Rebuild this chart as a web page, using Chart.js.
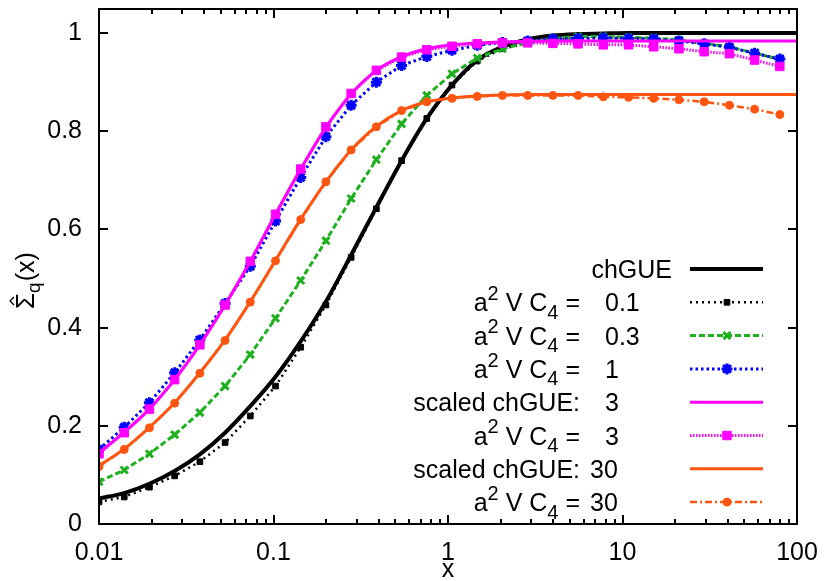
<!DOCTYPE html>
<html>
<head>
<meta charset="utf-8">
<script src="https://cdn.jsdelivr.net/npm/chart.js@4.4.1/dist/chart.umd.min.js"></script>
<style>
  html, body { margin: 0; padding: 0; background: #fff; }
  #wrap { position: relative; width: 830px; height: 581px; }
  #wrap canvas { position: absolute; left: 0; top: 0; }
  .gp { position: absolute; background: #000; pointer-events: none; }
</style>
</head>
<body>
<div id="wrap">
  <canvas id="sigmaChart" width="830" height="581"></canvas>
</div>
<script>
// x grid (log spaced)
const xGrid = [0.01, 0.01395, 0.01945, 0.02713, 0.03784, 0.05279, 0.07362, 0.1027, 0.1432, 0.1997,
  0.2786, 0.3886, 0.542, 0.756, 1.054, 1.471, 2.051, 2.861, 3.99, 5.566,
  7.762, 10.83, 15.1, 21.06, 29.38, 40.98, 57.15, 79.71];
// smooth curves run to the right edge
const xCurve = xGrid.concat([100]);

const chGUE = [0.052, 0.063, 0.082, 0.108, 0.142, 0.186, 0.240, 0.300, 0.372, 0.453,
  0.548, 0.645, 0.740, 0.826, 0.894, 0.945, 0.972, 0.987, 0.995, 0.998,
  0.999, 1.0, 1.0, 1.0, 1.0, 1.0, 1.0, 1.0, 1.0];
const c4_01 = [0.045, 0.055, 0.075, 0.098, 0.127, 0.166, 0.220, 0.281, 0.360, 0.446,
  0.543, 0.642, 0.740, 0.826, 0.894, 0.943, 0.968, 0.980, 0.987, 0.990,
  0.991, 0.990, 0.989, 0.985, 0.979, 0.971, 0.959, 0.946];
const c4_03 = [0.086, 0.110, 0.143, 0.182, 0.227, 0.281, 0.345, 0.419, 0.496, 0.577,
  0.663, 0.742, 0.815, 0.873, 0.917, 0.949, 0.968, 0.981, 0.989, 0.993,
  0.993, 0.991, 0.990, 0.986, 0.979, 0.972, 0.959, 0.947];
const c4_1 = [0.152, 0.197, 0.247, 0.308, 0.375, 0.449, 0.525, 0.617, 0.706, 0.789,
  0.853, 0.900, 0.934, 0.952, 0.965, 0.975, 0.981, 0.984, 0.988, 0.989,
  0.990, 0.989, 0.988, 0.984, 0.978, 0.971, 0.959, 0.947];
const scaled3 = [0.145, 0.187, 0.234, 0.294, 0.365, 0.446, 0.535, 0.631, 0.723, 0.808,
  0.876, 0.924, 0.952, 0.968, 0.976, 0.980, 0.982, 0.983, 0.984, 0.984,
  0.984, 0.984, 0.984, 0.984, 0.984, 0.984, 0.984, 0.984, 0.984];
const c4_3 = [0.143, 0.186, 0.234, 0.294, 0.365, 0.446, 0.535, 0.631, 0.723, 0.809,
  0.877, 0.924, 0.951, 0.966, 0.973, 0.978, 0.980, 0.980, 0.979, 0.978,
  0.976, 0.976, 0.972, 0.968, 0.962, 0.958, 0.945, 0.932];
const scaled30 = [0.119, 0.153, 0.197, 0.247, 0.308, 0.375, 0.453, 0.537, 0.621, 0.697,
  0.762, 0.810, 0.842, 0.860, 0.868, 0.872, 0.874, 0.875, 0.875, 0.875,
  0.875, 0.875, 0.875, 0.875, 0.875, 0.875, 0.875, 0.875, 0.875];
const c4_30 = [0.117, 0.152, 0.196, 0.246, 0.307, 0.374, 0.452, 0.536, 0.620, 0.697,
  0.762, 0.809, 0.842, 0.860, 0.867, 0.871, 0.873, 0.873, 0.873, 0.873,
  0.870, 0.869, 0.867, 0.864, 0.860, 0.853, 0.845, 0.834];

const xTicks = [0.01, 0.1, 1, 10, 100];
const yTicks = [0, 0.2, 0.4, 0.6, 0.8, 1];

// key text: [prefix, value]
const keyText = [
  ["chGUE", ""],
  ["a^2 V C_4 =", "0.1"],
  ["a^2 V C_4 =", "0.3"],
  ["a^2 V C_4 =", "1"],
  ["scaled chGUE:", "3"],
  ["a^2 V C_4 =", "3"],
  ["scaled chGUE:", "30"],
  ["a^2 V C_4 =", "30"]
];

const FONT = "Liberation Sans, Arial, sans-serif";
Chart.defaults.font.family = FONT;
Chart.defaults.font.size = 25;
Chart.defaults.color = "#000";

function pts(xs, ys) { return ys.map((v, i) => ({ x: xs[i], y: v })); }

const datasets = [
  { data: pts(xCurve, chGUE), borderColor: "#000", borderWidth: 4, pointRadius: 0, cubicInterpolationMode: "monotone" },
  { data: pts(xGrid, c4_01), borderColor: "#000", backgroundColor: "#000", borderWidth: 2.5, borderDash: [2, 4],
    pointStyle: "rect", pointRadius: 4, pointBorderWidth: 1 },
  { data: pts(xGrid, c4_03), borderColor: "#1fb01f", backgroundColor: "#1fb01f", borderWidth: 3, borderDash: [6, 3],
    pointStyle: "crossRot", pointRadius: 5, pointBorderWidth: 3 },
  { data: pts(xGrid, c4_1), borderColor: "#0000ff", backgroundColor: "#0000ff", borderWidth: 3, borderDash: [2.5, 3],
    pointStyle: "star", pointRadius: 5.5, pointBorderWidth: 3 },
  { data: pts(xCurve, scaled3), borderColor: "#ff00ff", borderWidth: 3, pointRadius: 0, cubicInterpolationMode: "monotone" },
  { data: pts(xGrid, c4_3), borderColor: "#ff00ff", backgroundColor: "#ff00ff", borderWidth: 3, borderDash: [1.5, 1.5],
    pointStyle: "rect", pointRadius: 6, pointBorderWidth: 1 },
  { data: pts(xCurve, scaled30), borderColor: "#ff5511", borderWidth: 3, pointRadius: 0, cubicInterpolationMode: "monotone" },
  { data: pts(xGrid, c4_30), borderColor: "#ff5511", backgroundColor: "#ff5511", borderWidth: 2.5, borderDash: [7, 3, 2, 3],
    pointStyle: "circle", pointRadius: 4, pointBorderWidth: 1 }
];
// later key entries drawn on top, as in the original
datasets.forEach((d, i) => { d.order = 20 - i; d.fill = false; });

// draw text with ^sup and _sub pieces, right edge at xr
function richParts(s) {
  const parts = [];
  const re = /([\^_])(\S)/g;
  let last = 0, m;
  while ((m = re.exec(s))) {
    if (m.index > last) parts.push([s.slice(last, m.index), "n"]);
    parts.push([m[2], m[1] === "^" ? "sup" : "sub"]);
    last = re.lastIndex;
  }
  if (last < s.length) parts.push([s.slice(last), "n"]);
  return parts;
}
function drawRich(ctx, s, xr, yb, size) {
  const parts = richParts(s);
  const font = k => (k === "n" ? size : Math.round(size * 0.78)) + "px " + FONT;
  const w = parts.map(([t, k]) => { ctx.font = font(k); return ctx.measureText(t).width; });
  let x = xr - w.reduce((a, b) => a + b, 0);
  parts.forEach(([t, k], i) => {
    ctx.font = font(k);
    const dy = k === "sup" ? -0.45 * size : k === "sub" ? 0.3 * size : 0;
    ctx.fillText(t, x, yb + dy);
    x += w[i];
  });
}

// border rectangles and inward ticks, from the chart's own scales
function frameRects(chart) {
  const a = chart.chartArea;
  const x = chart.scales.x, y = chart.scales.y;
  const L = Math.round(a.left), R = Math.round(a.right), T = Math.round(a.top), B = Math.round(a.bottom);
  const r = [
    [L - 1, T - 1, R - L + 2, 2], [L - 1, B - 1, R - L + 2, 2],
    [L - 1, T - 1, 2, B - T + 2], [R - 1, T - 1, 2, B - T + 2]
  ];
  yTicks.forEach(v => {
    const p = Math.round(y.getPixelForValue(v));
    r.push([L, p - 1, 9, 2], [R - 9, p - 1, 9, 2]);
  });
  xTicks.forEach((v, i) => {
    const p = Math.round(x.getPixelForValue(v));
    r.push([p - 1, B - 9, 2, 9], [p - 1, T, 2, 9]);
    if (i === xTicks.length - 1) return;
    for (let m = 2; m < 10; m++) {
      const q = Math.round(x.getPixelForValue(v * m));
      r.push([q - 1, B - 5, 2, 5], [q - 1, T, 2, 5]);
    }
  });
  return r;
}

const decor = {
  id: "gpDecor",
  afterDraw(chart) {
    const ctx = chart.ctx;
    const a = chart.chartArea;
    ctx.save();
    ctx.textBaseline = "alphabetic";
    ctx.textAlign = "left";
    keyText.forEach(([pre, val], i) => {
      const yc = 269 + i * 33.3;
      ctx.fillStyle = "#000";
      if (!val) drawRich(ctx, pre, 672, yc + 9, 25);
      else {
        drawRich(ctx, pre, 580, yc + 9, 25);
        ctx.font = "25px " + FONT;
        ctx.fillText(val, val === "30" ? 590 : 605, yc + 9);
      }
      const ds = chart.data.datasets[i];
      ctx.save();
      ctx.strokeStyle = ds.borderColor;
      ctx.lineWidth = ds.borderWidth;
      ctx.setLineDash(ds.borderDash || []);
      ctx.beginPath();
      ctx.moveTo(690, yc); ctx.lineTo(763, yc);
      ctx.stroke();
      ctx.setLineDash([]);
      if (ds.pointRadius > 0) {
        ctx.fillStyle = ds.backgroundColor;
        ctx.strokeStyle = ds.borderColor;
        ctx.lineWidth = ds.pointBorderWidth;
        Chart.helpers.drawPoint(ctx, { pointStyle: ds.pointStyle, radius: ds.pointRadius, rotation: 0, borderWidth: ds.pointBorderWidth }, 727, yc);
      }
      ctx.restore();
    });

    // axis titles
    ctx.fillStyle = "#000";
    ctx.font = "25px " + FONT;
    ctx.textAlign = "center";
    ctx.fillText("x", (a.left + a.right) / 2, 577);

    ctx.save();
    ctx.translate(34, 309);
    ctx.rotate(-Math.PI / 2);
    ctx.textAlign = "left";
    ctx.font = "26px " + FONT;
    ctx.fillText("\u03A3", 0, 0);
    const ws = ctx.measureText("\u03A3").width;
    ctx.strokeStyle = "#000";
    ctx.lineWidth = 1.3;
    ctx.beginPath();
    ctx.moveTo(ws / 2 - 4, -20); ctx.lineTo(ws / 2, -24); ctx.lineTo(ws / 2 + 4, -20);
    ctx.stroke();
    ctx.font = "19px " + FONT;
    ctx.fillText("q", ws, 6);
    const wq = ctx.measureText("q").width;
    ctx.font = "25px " + FONT;
    ctx.fillText("(x)", ws + wq + 1, 0);
    ctx.restore();

    ctx.fillStyle = "#000";
    frameRects(chart).forEach(([x, y, w, h]) => ctx.fillRect(x, y, w, h));
    ctx.restore();
  }
};

const chart = new Chart(document.getElementById("sigmaChart").getContext("2d"), {
  type: "line",
  data: { datasets: datasets },
  options: {
    responsive: false,
    animation: false,
    layout: { padding: { top: 5, right: 33, left: 0, bottom: 0 } },
    plugins: { legend: { display: false }, tooltip: { enabled: false } },
    scales: {
      x: {
        type: "logarithmic",
        min: 0.01, max: 100,
        grid: { display: false, drawTicks: false },
        border: { display: false },
        ticks: { padding: 14, maxRotation: 0, autoSkip: false, callback: v => String(v) },
        afterBuildTicks: s => { s.ticks = xTicks.map(v => ({ value: v })); },
        afterFit: s => { s.height = 57; s.paddingLeft = 0; s.paddingRight = 0; }
      },
      y: {
        min: 0, max: 1.05,
        grid: { display: false, drawTicks: false },
        border: { display: false },
        ticks: { padding: 17, callback: v => String(v) },
        afterBuildTicks: s => { s.ticks = yTicks.map(v => ({ value: v })); },
        afterFit: s => { s.width = 99; s.paddingTop = 0; s.paddingBottom = 0; }
      }
    }
  },
  plugins: [decor]
});

// the frame once more as page elements on top of the canvas
const wrap = document.getElementById("wrap");
frameRects(chart).forEach(([x, y, w, h]) => {
  const d = document.createElement("div");
  d.className = "gp";
  d.style.left = x + "px"; d.style.top = y + "px";
  d.style.width = w + "px"; d.style.height = h + "px";
  wrap.appendChild(d);
});
</script>
</body>
</html>
